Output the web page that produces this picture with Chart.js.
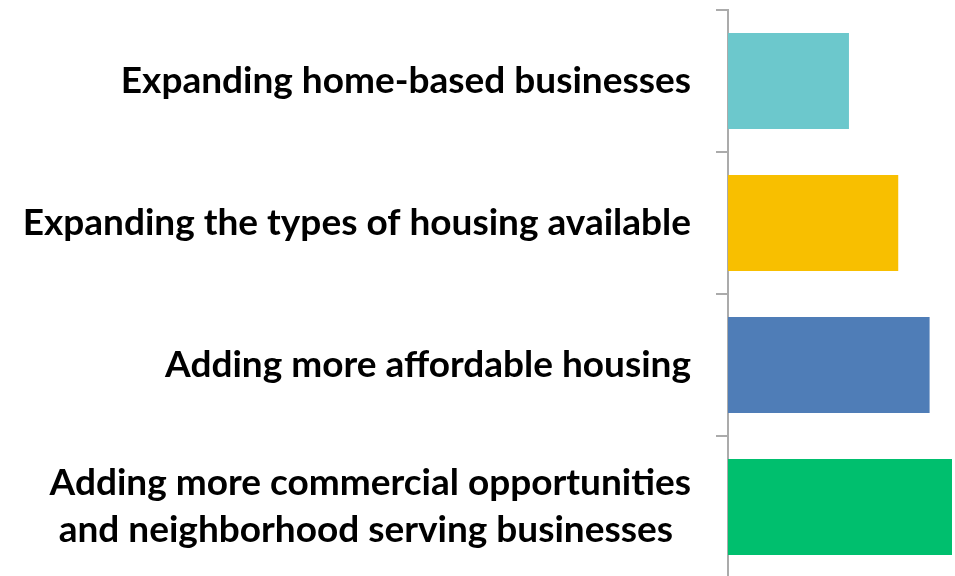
<!DOCTYPE html>
<html>
<head>
<meta charset="utf-8">
<script src="https://cdn.jsdelivr.net/npm/chart.js@4.4.3/dist/chart.umd.min.js"></script>
<style>
  html, body { margin:0; padding:0; background:#fff; overflow:hidden; }
  #wrap { width:955px; height:578px; }
</style>
</head>
<body>
<div id="wrap"><canvas id="c" width="955" height="578"></canvas></div>
<script>
// categories (top to bottom) and their values
const categories = [
  'Expanding home-based businesses',
  'Expanding the types of housing available',
  'Adding more affordable housing',
  // second line padded so the two lines look centred, as in the original
  ['Adding more commercial opportunities', 'and neighborhood serving businesses\u00A0\u00A0']
];
const values = [27, 38, 45, 50];
const colors = ['#6CC8CC', '#F8BF00', '#4F7DB7', '#00BF6E'];

new Chart(document.getElementById('c').getContext('2d'), {
  type: 'bar',
  data: {
    labels: categories,
    datasets: [{
      data: values,
      backgroundColor: colors,
      categoryPercentage: 1,
      barPercentage: 0.676
    }]
  },
  options: {
    indexAxis: 'y',
    responsive: false,
    animation: false,
    layout: { padding: { top: 10, right: 0, bottom: 0, left: 0 } },
    plugins: { legend: { display:false }, tooltip: { enabled:false } },
    scales: {
      x: { display:false, min:0, max:50.67 },
      y: {
        afterFit(s){ s.width = 728; s.paddingTop = 0; s.paddingBottom = 0; },
        border: { display:true, color:'#ababab', width:2 },
        grid: { drawOnChartArea:false, drawTicks:true, tickLength:12, color:'#ababab', lineWidth:2, offset:true },
        ticks: {
          color:'#000',
          padding: 25,
          autoSkip: false,
          font: { family:'Lato', weight:'bold', size:37, lineHeight:1.27 }
        }
      }
    }
  }
});
</script>
</body>
</html>
